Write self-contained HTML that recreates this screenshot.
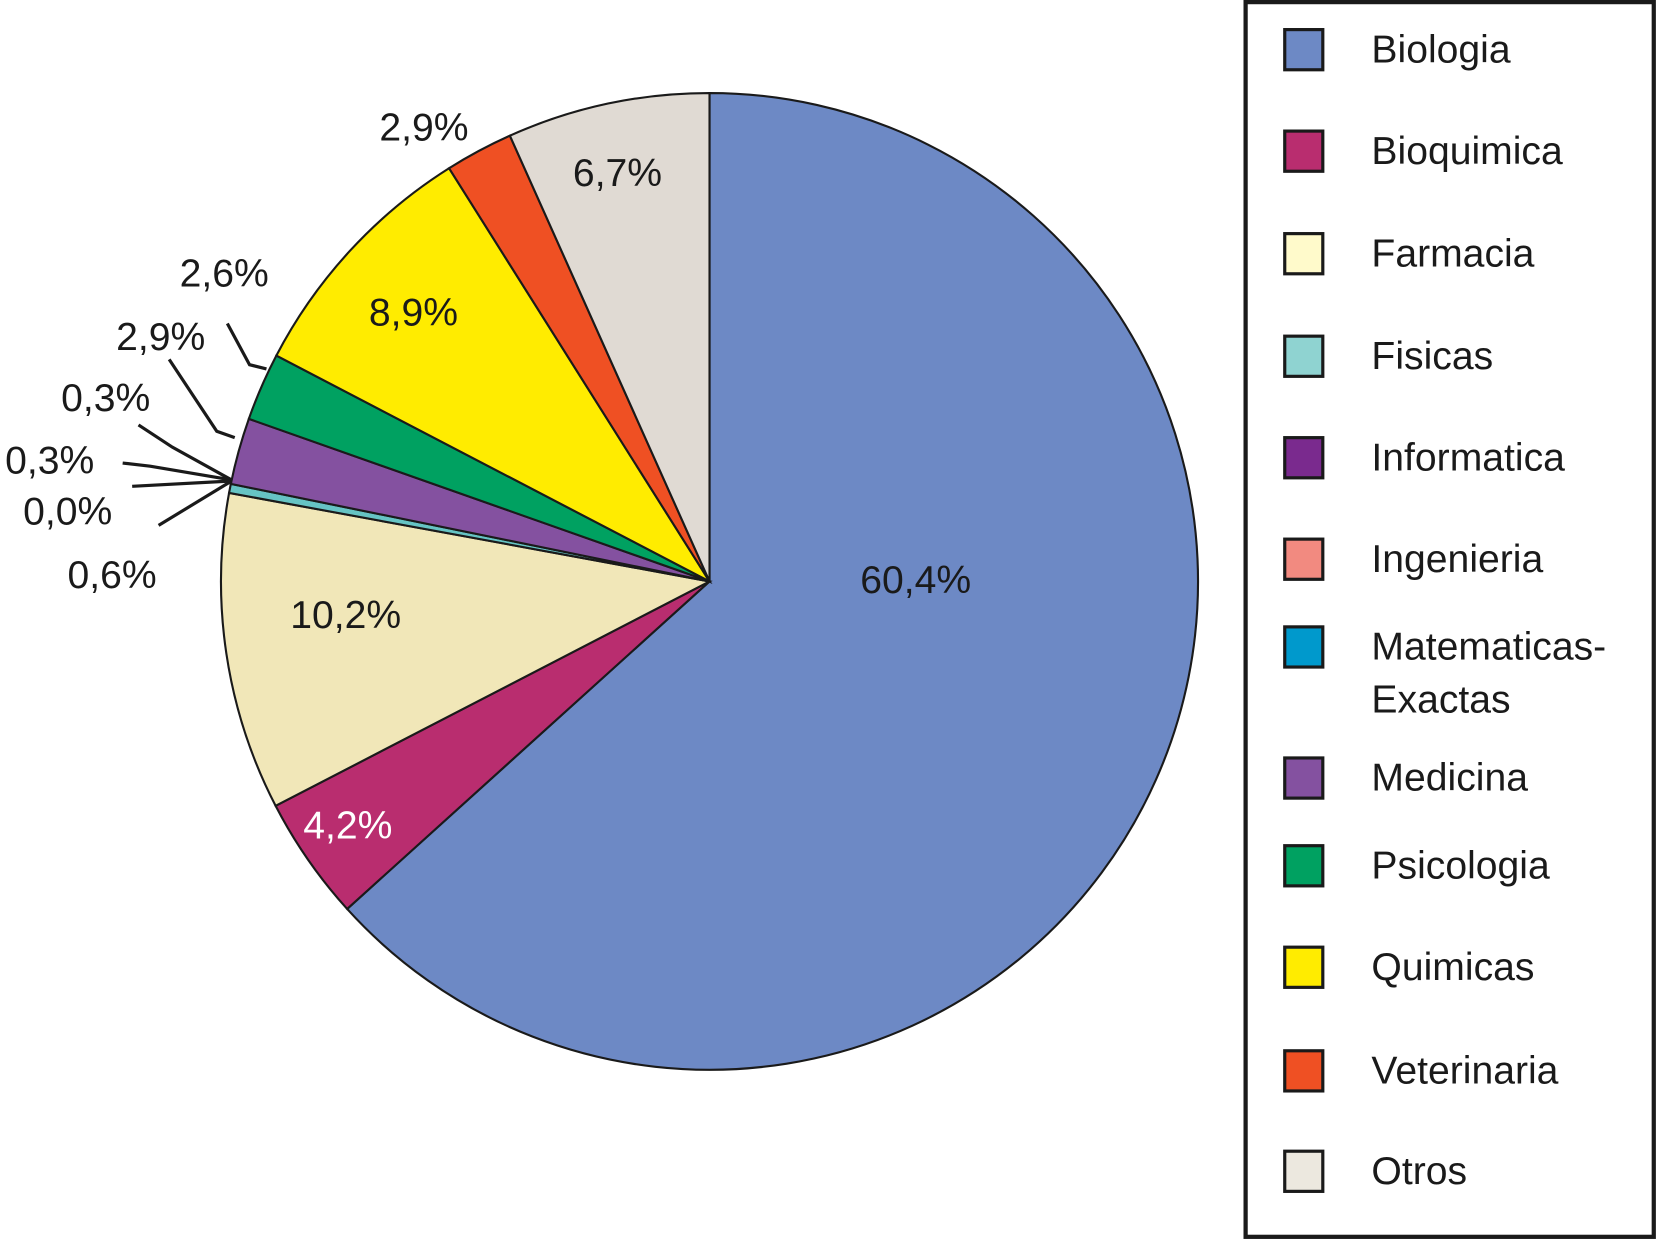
<!DOCTYPE html>
<html><head><meta charset="utf-8"><style>
html,body{margin:0;padding:0;background:#fff;}
svg{display:block;font-family:"Liberation Sans",Arial,sans-serif;}
</style></head><body>
<svg id="chart" width="1658" height="1240" viewBox="0 0 1568 1173" preserveAspectRatio="none" xmlns="http://www.w3.org/2000/svg">
<g id="slices"></g>
<g id="labels"></g>
<g id="leaders" fill="none" stroke="#1a1a1a" stroke-width="3">
<polyline points="215,306 236,345 252,349"/>
<polyline points="160,340 205,408 222,414"/>
<polyline points="131,402 163,423 219,454"/>
<polyline points="116,438 142,441 219,454"/>
<polyline points="125,460 219,455"/>
<polyline points="150,497 219,455"/>
</g>
<g>
<rect x="1178" y="2" width="386" height="1168" fill="#fff" stroke="#1a1a1a" stroke-width="4"/>
<g id="legend-items"></g>
</g>
</svg>
<script>
const categories = ["Biologia","Bioquimica","Farmacia","Fisicas","Informatica","Ingenieria","Matematicas-Exactas","Medicina","Psicologia","Quimicas","Veterinaria","Otros"];
// slice shares as drawn in the picture (angular extent)
const values = [63.3,4.1,10.5,0.3,0.0,0.0,0.0,2.2,2.25,8.4,2.25,6.7];
const valueLabels = ["60,4%","4,2%","10,2%","0,6%","0,0%","0,3%","0,3%","2,9%","2,6%","8,9%","2,9%","6,7%"];
const sliceColors = ["#6d89c5","#b92d6f","#f1e7b8","#66c4c4","#7a2a8e","#f28a80","#0099cc","#8451a0","#00a161","#ffec00","#ef5023","#e0dad3"];
const legendColors = ["#6d89c5","#b92d6f","#fffacb","#8fd3d1","#7a2a8e","#f28a80","#0099cc","#8451a0","#00a161","#ffec00","#ef5023","#ece8df"];
const NS="http://www.w3.org/2000/svg";
const cx=671, cy=550, r=462;
const total=values.reduce((a,b)=>a+b,0);
function angleOf(v){return v/total*2*Math.PI;}
function pt(a,rr){return [cx+rr*Math.sin(a), cy-rr*Math.cos(a)];}
const sg=document.getElementById('slices');
const lg=document.getElementById('labels');
const labelPos={0:[866,548],1:[329,780],2:[327,581],3:[106,543],4:[64,483],5:[47,435],6:[100,376],7:[152,318],8:[212,258],9:[391,295],10:[401,120],11:[584,163]};
let a0=0;
values.forEach((v,i)=>{
  const a1=a0+angleOf(v);
  if(v>0){
    const p0=pt(a0,r), p1=pt(a1,r);
    const large=(a1-a0)>Math.PI?1:0;
    const p=document.createElementNS(NS,'path');
    p.setAttribute('d',`M${cx},${cy} L${p0[0]},${p0[1]} A${r},${r} 0 ${large} 1 ${p1[0]},${p1[1]} Z`);
    p.setAttribute('fill',sliceColors[i]);
    p.setAttribute('stroke','#1a1a1a');
    p.setAttribute('stroke-width','2');
    
    
    sg.appendChild(p);
  }
  let lp=labelPos[i] || pt((a0+a1)/2,0.7*r);
  const t=document.createElementNS(NS,'text');
  t.setAttribute('x',lp[0]); t.setAttribute('y',lp[1]+13);
  t.setAttribute('text-anchor','middle');
  t.setAttribute('font-size','37');
  t.setAttribute('fill', i===1?'#fff':'#1a1a1a');
  
  
  t.textContent=valueLabels[i];
  lg.appendChild(t);
  a0=a1;
});
const legendY=[47,143,240,337,433,529,612,736,819,915,1013,1108];
const li=document.getElementById('legend-items');
categories.forEach((c,i)=>{
  const y=legendY[i];
  const s=document.createElementNS(NS,'rect');
  s.setAttribute('x',1215); s.setAttribute('y',y-19);
  s.setAttribute('width',36); s.setAttribute('height',38);
  s.setAttribute('fill',legendColors[i]);
  s.setAttribute('stroke','#1a1a1a'); s.setAttribute('stroke-width','3');
  
  
  li.appendChild(s);
  const t=document.createElementNS(NS,'text');
  t.setAttribute('x',1297); t.setAttribute('font-size','37'); t.setAttribute('fill','#1a1a1a');
  
  
  if(c.indexOf('-')>0){
    const parts=c.split('-');
    const a=document.createElementNS(NS,'tspan'); a.setAttribute('x',1297); a.setAttribute('y',y+12); a.textContent=parts[0]+'-';
    const b=document.createElementNS(NS,'tspan'); b.setAttribute('x',1297); b.setAttribute('y',y+62); b.textContent=parts[1];
    t.appendChild(a); t.appendChild(b);
  } else { t.setAttribute('y',y+12); t.textContent=c; }
  li.appendChild(t);
});
</script>
</body></html>
